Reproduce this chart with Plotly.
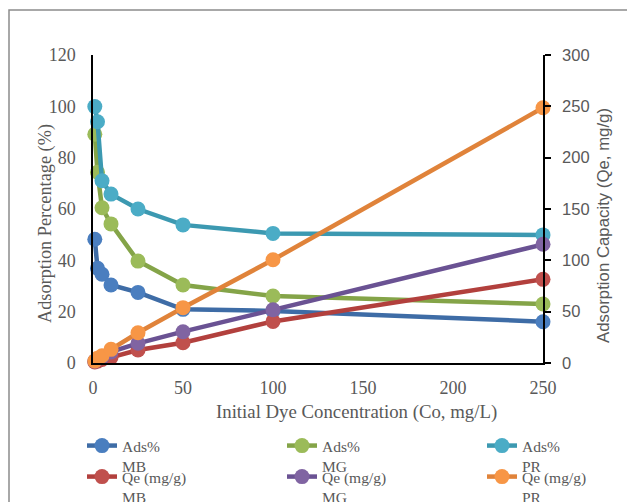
import plotly.graph_objects as go

conc = [1, 2.5, 5, 10, 25, 50, 100, 250]
ads_mb = [48.2, 36.9, 34.6, 30.4, 27.5, 20.9, 20.3, 16.1]
ads_mg = [89.1, 74.3, 60.5, 54.2, 39.7, 30.4, 26.1, 23.0]
ads_pr = [99.9, 94.0, 71.0, 65.8, 60.0, 53.8, 50.5, 49.9]
qe_mb = [0.96, 1.85, 3.4, 5.5, 12.7, 19.8, 40.5, 81.5]
qe_mg = [1.8, 3.7, 6.0, 10.8, 19.2, 30.5, 51.8, 115.6]
qe_pr = [2.0, 4.7, 7.1, 13.3, 29.5, 53.9, 100.5, 248.6]

names = ["Ads%<br>MB", "Ads%<br>MG", "Ads%<br>PR",
         "Qe (mg/g)<br>MB", "Qe (mg/g)<br>MG", "Qe (mg/g)<br>PR"]
line_colors = ["#3e6ca6", "#84a448", "#3c99b1", "#b2403d", "#6a5293", "#e0833a"]
marker_colors = ["#4a7ebf", "#9bbb59", "#4bacc6", "#c0504d", "#8064a2", "#f79646"]

series = [ads_mb, ads_mg, ads_pr, qe_mb, qe_mg, qe_pr]
axes = ["y", "y", "y", "y2", "y2", "y2"]
legend_ids = ["legend", "legend2", "legend3", "legend4", "legend5", "legend6"]

SERIF = "Liberation Serif"
SANS = "Liberation Sans"
GREY = "#595959"

W, H = 627, 502
L, R, T, B = 93, 84, 55, 139
pw = W - L - R
ph = H - T - B


def px_x(p):
    return (p - L) / pw


def px_y(p):
    return (H - B - p) / ph


fig = go.Figure()
for vals, nm, lc, mc, ax, lg in zip(series, names, line_colors, marker_colors, axes, legend_ids):
    fig.add_trace(go.Scatter(
        x=conc, y=vals, name=nm, yaxis=ax, legend=lg,
        mode="lines+markers",
        line=dict(color=lc, width=4.5),
        marker=dict(color=mc, size=15, line=dict(width=0)),
        cliponaxis=False, showlegend=True,
    ))

# legend grid placement (pixels in the figure)
leg_cols = [82, 282, 482]
leg_rows = [429, 460]
legend_layout = {}
for i, lg in enumerate(legend_ids):
    cx = leg_cols[i % 3]
    ry = leg_rows[i // 3]
    legend_layout[lg] = dict(
        orientation="v", xref="container", yref="container",
        x=cx / W, y=1 - ry / H, xanchor="left", yanchor="top",
        itemwidth=30, valign="top", bgcolor="rgba(0,0,0,0)",
        font=dict(family=SERIF, size=15.5, color=GREY),
    )

fig.update_layout(
    width=W, height=H, showlegend=True,
    margin=dict(l=L, r=R, t=T, b=B, autoexpand=False),
    paper_bgcolor="white", plot_bgcolor="white",
    xaxis=dict(
        range=[0, 250], dtick=50, tick0=0,
        showgrid=False, zeroline=False,
        showline=True, linecolor="black", linewidth=1.5,
        ticks="", ticklabelstandoff=8,
        tickfont=dict(family=SERIF, size=18, color=GREY),
    ),
    yaxis=dict(
        range=[0, 120], dtick=20, tick0=0,
        showgrid=False, zeroline=False,
        showline=True, linecolor="black", linewidth=1.5,
        ticks="", ticklabelstandoff=12,
        tickfont=dict(family=SERIF, size=18, color=GREY),
    ),
    yaxis2=dict(
        range=[0, 300], dtick=50, tick0=0, overlaying="y", side="right",
        showgrid=False, zeroline=False,
        showline=True, linecolor="black", linewidth=1.5,
        ticks="outside", ticklen=6, tickwidth=1.5, tickcolor="black",
        ticklabelstandoff=8,
        tickfont=dict(family=SANS, size=16.5, color=GREY),
    ),
    annotations=[
        dict(text="Initial Dye Concentration (Co, mg/L)", xref="paper", yref="paper",
             x=px_x(356), y=px_y(412), xanchor="center", yanchor="middle",
             showarrow=False, font=dict(family=SERIF, size=18.8, color=GREY)),
        dict(text="Adsorption Percentage (%)", xref="paper", yref="paper",
             x=px_x(45), y=px_y(224), xanchor="center", yanchor="middle",
             textangle=-90, showarrow=False,
             font=dict(family=SERIF, size=18.3, color=GREY)),
        dict(text="Adsorption Capacity (Qe, mg/g)", xref="paper", yref="paper",
             x=px_x(603), y=px_y(226), xanchor="center", yanchor="middle",
             textangle=-90, showarrow=False,
             font=dict(family=SANS, size=16.8, color=GREY)),
    ],
    shapes=[dict(
        type="rect", xref="paper", yref="paper",
        x0=px_x(9), x1=px_x(660), y0=px_y(540), y1=px_y(10),
        line=dict(color="#8c8c8c", width=1.5), fillcolor="rgba(0,0,0,0)",
        layer="below",
    )],
    **legend_layout,
)

fig.write_html("out.html")
